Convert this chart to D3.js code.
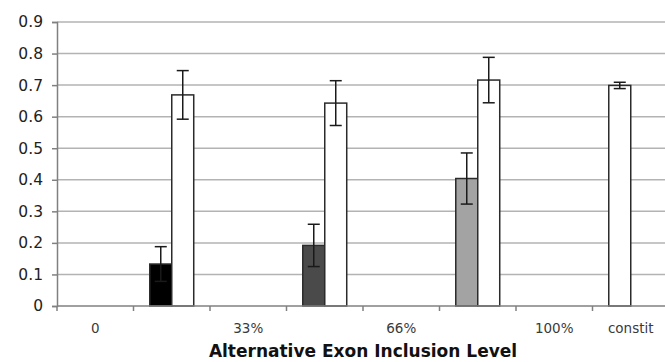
<!DOCTYPE html>
<html>
<head>
<meta charset="utf-8">
<script src="https://cdn.jsdelivr.net/npm/d3@7"></script>
<style>
  body { margin: 0; background: #fff; }
  svg { display: block; font-family: "DejaVu Sans", Verdana, sans-serif; }
</style>
</head>
<body>
<div id="container"></div>
<script>
// category labels along the x axis (blank slots sit between the labelled ones)
const categories = [ '0', '', '33%', '', '66%', '', '100%', 'constit' ];

// left bar of each pair (fill varies per category)
const leftValues = [ null, 0.133, null, 0.192, null, 0.404, null, 0.699 ];
const leftErrors = [ null, 0.055, null, 0.067, null, 0.081, null, 0.010 ];
const leftFills = [ null, '#000000', null, '#4a4a4a', null, '#a3a3a3', null, '#ffffff' ];

// right bar of each pair (white)
const rightValues = [ null, 0.669, null, 0.643, null, 0.716, null, null ];
const rightErrors = [ null, 0.077, null, 0.071, null, 0.072, null, null ];

const yTicks = [ 0, 0.1, 0.2, 0.3, 0.4, 0.5, 0.6, 0.7, 0.8, 0.9 ];

//_____ LAYOUT _____
const W = 665, H = 362;
const plotLeft = 57, plotRight = 669, plotTop = 22, plotBottom = 306;

const svg = d3.select( '#container' ).append( 'svg' )
  .attr( 'width', W )
  .attr( 'height', H );

//_____ SCALES _____
const x0 = d3.scaleBand()
  .domain( d3.range( categories.length ) )
  .range( [ plotLeft, plotRight ] )
  .paddingInner( 0 );

const x1 = d3.scaleBand()
  .domain( [ 'a', 'b' ] )
  .range( [ 0, x0.bandwidth() ] )
  .paddingInner( 0 )
  .paddingOuter( 0.74 );

const y = d3.scaleLinear()
  .domain( [ 0, 0.9 ] )
  .range( [ plotBottom, plotTop ] );

//_____ GRIDLINES _____
svg.append( 'g' )
  .selectAll( 'line' )
  .data( yTicks.filter( d => d > 0 ) )
  .enter()
  .append( 'line' )
  .attr( 'x1', plotLeft )
  .attr( 'x2', plotRight )
  .attr( 'y1', d => y( d ) )
  .attr( 'y2', d => y( d ) )
  .attr( 'stroke', '#b3b3b3' )
  .attr( 'stroke-width', 1.5 );

//_____ BARS _____
const bars = [];
categories.forEach( ( c, i ) => {
  if ( leftValues[ i ] != null ) bars.push( { i, slot: 'a', v: leftValues[ i ], e: leftErrors[ i ], fill: leftFills[ i ] } );
  if ( rightValues[ i ] != null ) bars.push( { i, slot: 'b', v: rightValues[ i ], e: rightErrors[ i ], fill: '#ffffff' } );
} );

svg.append( 'g' )
  .selectAll( 'rect' )
  .data( bars )
  .enter()
  .append( 'rect' )
  .attr( 'x', d => x0( d.i ) + x1( d.slot ) )
  .attr( 'y', d => y( d.v ) )
  .attr( 'width', x1.bandwidth() )
  .attr( 'height', d => y( 0 ) - y( d.v ) )
  .attr( 'fill', d => d.fill )
  .attr( 'stroke', '#2b2b2b' )
  .attr( 'stroke-width', 1.5 );

//_____ ERROR BARS _____
const eb = svg.append( 'g' )
  .attr( 'stroke', '#1a1a1a' )
  .attr( 'stroke-width', 1.5 )
  .selectAll( 'g' )
  .data( bars )
  .enter()
  .append( 'g' )
  .attr( 'transform', d => `translate(${x0( d.i ) + x1( d.slot ) + x1.bandwidth() / 2},0)` );

eb.append( 'line' )
  .attr( 'y1', d => y( d.v - d.e ) )
  .attr( 'y2', d => y( d.v + d.e ) );
eb.append( 'line' )
  .attr( 'x1', -6 ).attr( 'x2', 6 )
  .attr( 'y1', d => y( d.v + d.e ) )
  .attr( 'y2', d => y( d.v + d.e ) );
eb.append( 'line' )
  .attr( 'x1', -6 ).attr( 'x2', 6 )
  .attr( 'y1', d => y( d.v - d.e ) )
  .attr( 'y2', d => y( d.v - d.e ) );

//_____ AXES _____
const yAxis = d3.axisLeft( y )
  .tickValues( yTicks )
  .tickFormat( d => d === 0 ? '0' : d3.format( '.1f' )( d ) )
  .tickSize( 5 )
  .tickPadding( 9 );

const gy = svg.append( 'g' )
  .attr( 'transform', `translate(${plotLeft},0)` )
  .call( yAxis );
gy.select( '.domain' ).attr( 'stroke', '#808080' ).attr( 'stroke-width', 1.5 );
gy.selectAll( '.tick line' ).attr( 'stroke', '#808080' ).attr( 'stroke-width', 1.5 );
gy.selectAll( 'text' )
  .attr( 'fill', '#222' )
  .style( 'font-size', '15.5px' )
  .style( 'font-family', '"DejaVu Sans", Verdana, sans-serif' );

// x axis: ticks at category boundaries, labels at category centres
const xb = svg.append( 'g' );
xb.append( 'line' )
  .attr( 'x1', plotLeft ).attr( 'x2', plotRight )
  .attr( 'y1', plotBottom ).attr( 'y2', plotBottom )
  .attr( 'stroke', '#808080' )
  .attr( 'stroke-width', 1.5 );
xb.selectAll( '.xt' )
  .data( d3.range( categories.length + 1 ) )
  .enter()
  .append( 'line' )
  .attr( 'x1', i => plotLeft + i * x0.step() )
  .attr( 'x2', i => plotLeft + i * x0.step() )
  .attr( 'y1', plotBottom )
  .attr( 'y2', plotBottom + 5 )
  .attr( 'stroke', '#808080' )
  .attr( 'stroke-width', 1.5 );
xb.selectAll( 'text' )
  .data( categories )
  .enter()
  .append( 'text' )
  .attr( 'x', ( d, i ) => x0( i ) + x0.bandwidth() / 2 )
  .attr( 'y', 333 )
  .attr( 'text-anchor', 'middle' )
  .attr( 'fill', '#3a3a3a' )
  .style( 'font-size', '13.5px' )
  .text( d => d );

//_____ AXIS TITLE _____
svg.append( 'text' )
  .attr( 'x', 363 )
  .attr( 'y', 357 )
  .attr( 'text-anchor', 'middle' )
  .attr( 'fill', '#111' )
  .style( 'font-size', '17px' )
  .style( 'font-weight', 'bold' )
  .text( 'Alternative Exon Inclusion Level' );
</script>
</body>
</html>
